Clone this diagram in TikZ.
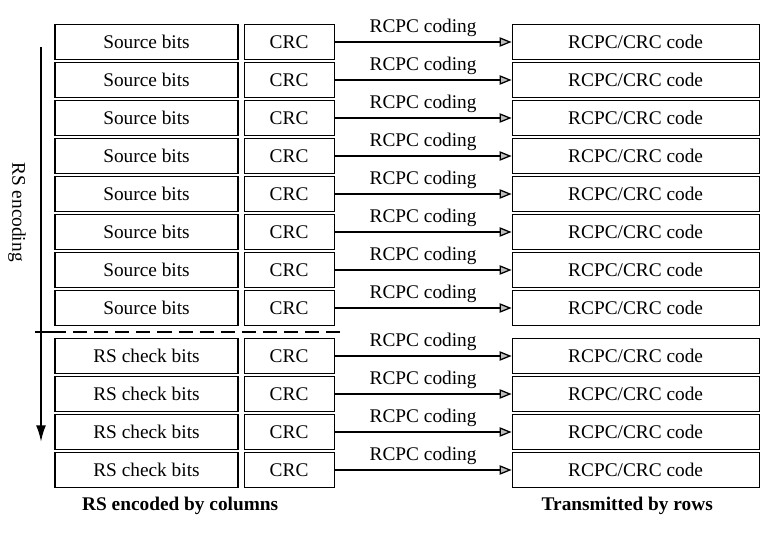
\documentclass[tikz,border=0pt]{standalone}
\usepackage{fontspec}
\setmainfont{Liberation Serif}
\usetikzlibrary{arrows.meta, positioning}

\begin{document}
\begin{tikzpicture}[
    x=0.03cm, y=-0.03cm,
    font=\fontsize{16.5}{19}\selectfont,
    node distance=0.15cm,
    srcbox/.style={rectangle, draw, line width=0.9pt, inner sep=0pt,
                   minimum width=5.49cm, minimum height=1.03cm},
    crcbox/.style={rectangle, draw, line width=0.9pt, inner sep=0pt,
                   minimum width=2.7cm, minimum height=1.03cm},
    codebox/.style={rectangle, draw, line width=0.9pt, inner sep=0pt,
                    minimum width=7.41cm, minimum height=1.03cm},
    arr/.style={-{Triangle[fill=gray!50, length=3.6mm, width=2.8mm]}, line width=1.1pt},
    caption/.style={font=\fontsize{16.5}{19}\selectfont\bfseries}
  ]
  \useasboundingbox (0,0) rectangle (767,543);

  % rows: source bits and RS check bits
  \foreach \i in {1,...,12} {
    \pgfmathsetmacro\yy{\i<9 ? 4+38*\i : 14+38*\i}
    \node[srcbox] (src\i) at (146.5,\yy)
      {\ifnum\i<9 Source bits\else RS check bits\fi};
    \node[crcbox, right=of src\i] (crc\i) {CRC};
    \node[codebox, right=5.31cm of crc\i] (code\i) {RCPC/CRC code};
    \draw[arr] (crc\i) -- node[above=1pt] {RCPC coding} (code\i);
  }

  % RS encoding direction
  \coordinate (enctop) at (41,47);
  \coordinate (encbot) at (41,442);
  \draw[-{Latex[length=5mm, width=3mm]}, line width=1.8pt] (enctop) -- (encbot);
  \node[rotate=-90] (enclabel) at (17,212) {RS encoding};

  % border between source and check rows
  \coordinate (sepl) at (35,332);
  \coordinate (sepm) at (52,332);
  \coordinate (sepr) at (345,332);
  \draw[line width=1.4pt] (sepl) -- (sepm);
  \draw[line width=1.8pt, dash pattern=on 12pt off 6pt] (sepm) -- (sepr);

  \node[caption, below=0.15cm of crc12.south west, xshift=-1.9cm] (capcol)
    {RS encoded by columns};
  \node[caption, below=0.15cm of code12, xshift=-0.25cm] (caprow)
    {Transmitted by rows};

\end{tikzpicture}
\end{document}
